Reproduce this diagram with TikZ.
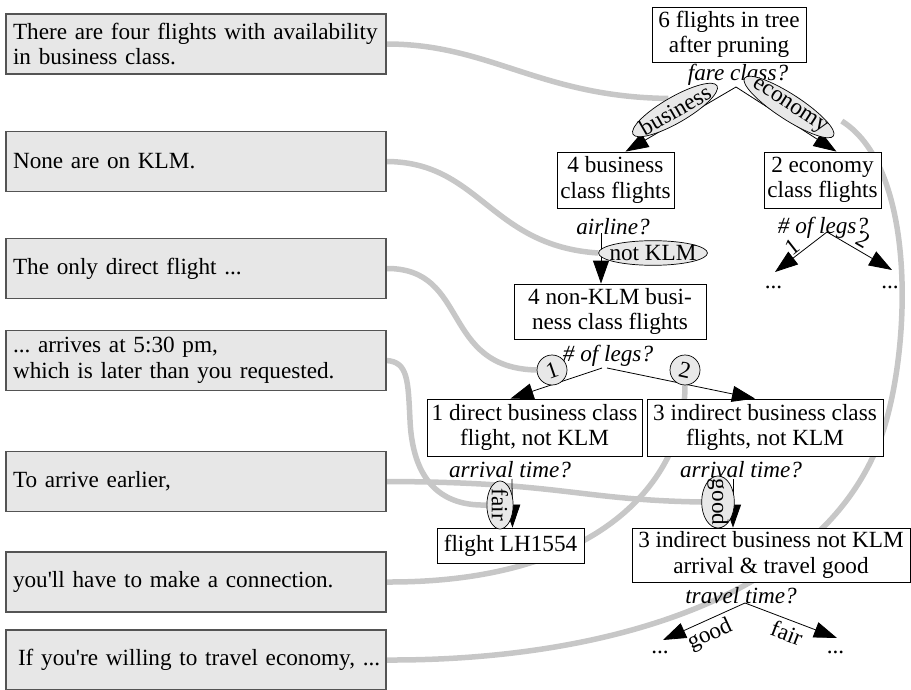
\documentclass[tikz,border=0pt]{standalone}
\usepackage{fontspec}
\setmainfont{Liberation Serif}[Ligatures=TeXOff]
\usetikzlibrary{arrows.meta,shapes.geometric,backgrounds}
\definecolor{saybg}{gray}{0.905}
\definecolor{sayline}{gray}{0.33}
\definecolor{linkgray}{gray}{0.78}
\definecolor{labbg}{gray}{0.91}
\frenchspacing
\begin{document}
\begin{tikzpicture}[x=1pt,y=-1pt,
  every node/.style={font=\fontsize{23.2}{25.5}\selectfont},
  say/.style={draw=sayline, fill=saybg, line width=1.1pt, minimum width=380pt,
    minimum height=60pt, text width=366pt, align=left, inner sep=0pt},
  tbox/.style={draw=black, fill=white, line width=0.8pt, inner sep=0pt, align=center},
  lab/.style={ellipse, draw=black, fill=labbg, line width=0.7pt, inner xsep=-5pt, inner ysep=1pt},
  circlab/.style={circle, draw=black, fill=labbg, line width=0.7pt, inner sep=0pt, minimum size=30pt},
  qtext/.style={font=\fontsize{23.2}{25.5}\selectfont\itshape, inner sep=0pt},
  plain/.style={inner sep=0pt},
  link/.style={line width=5.5pt, draw=linkgray},
  tedge/.style={draw=black, line width=0.8pt, -{Triangle[length=23pt,width=16pt]}}
]
\useasboundingbox (0,0) rectangle (911,690);

% left-hand sentences
\node[say] (s1) at (196,44) {There are four flights with availability\\in business class.};
\node[say] (s2) at (196,161.5) {None are on KLM.};
\node[say] (s3) at (196,268.5) {The only direct flight ...};
\node[say] (s4) at (196,360.5) {... arrives at 5:30 pm,\\which is later than you requested.};
\node[say] (s5) at (196,481.5) {To arrive earlier,};
\node[say] (s6) at (196,582) {you'll have to make a connection.};
\node[say] (s7) at (196,660) {\mbox{\hspace{5pt}If you're willing to travel economy, ...}};

% tree boxes
\node[tbox, minimum width=154pt, minimum height=55pt] (n6) at (729,34.5) {6 flights in tree\\after pruning};
\node[tbox, minimum width=117pt, minimum height=56pt] (n4b) at (615.5,180) {4 business\\class flights};
\node[tbox, minimum width=117pt, minimum height=56pt] (n2e) at (822.5,180) {2 economy\\class flights};
\node[tbox, minimum width=192pt, minimum height=55pt] (n4n) at (610,311.5) {4 non-KLM busi-\\ness class flights};
\node[tbox, minimum width=215pt, minimum height=57pt] (n1d) at (534.5,427.5) {1 direct business class\\flight, not KLM};
\node[tbox, minimum width=236pt, minimum height=57pt] (n3i) at (765,427.5) {3 indirect business class\\flights, not KLM};
\node[tbox, minimum width=147pt, minimum height=35pt] (nlh) at (510.5,545.5) {flight LH1554};
\node[tbox, minimum width=278pt, minimum height=54pt] (n3g) at (771,555) {3 indirect business not KLM\\arrival \& travel good};

% questions
\node[qtext] (q1) at (738,75) {fare class?};
\node[qtext] (q2) at (613,227) {airline?};
\node[qtext] (q3) at (823,228) {\# of legs?};
\node[qtext] (q4) at (608,356) {\# of legs?};
\node[qtext] (q5) at (510,470) {arrival time?};
\node[qtext] (q6) at (741,470) {arrival time?};
\node[qtext] (q7) at (741,596) {travel time?};

% branch points and free ends
\coordinate (j1) at (736,87);
\coordinate (j2) at (601,233);
\coordinate (j3) at (827,232);
\coordinate (j4a) at (602,368);
\coordinate (j4b) at (607,368);
\coordinate (j5) at (512,479);
\coordinate (j6) at (733,479);
\coordinate (j7) at (745,603);
\coordinate (t1) at (775,272);
\coordinate (t2) at (892,270);
\coordinate (t3) at (663,640);
\coordinate (t4) at (837,638);

% dots
\node[plain, anchor=base] (d1) at (773.5,288) {...};
\node[plain, anchor=base] (d2) at (890,288) {...};
\node[plain, anchor=base] (d3) at (660,653) {...};
\node[plain, anchor=base] (d4) at (835.5,653) {...};

% tree edges
\draw[tedge] (j1) -- ([xshift=10pt]n4b.north);
\draw[tedge] (j1) -- ([xshift=14pt]n2e.north);
\draw[tedge] (j2) -- ([xshift=-9pt]n4n.north);
\draw[tedge] (j3) -- (t1);
\draw[tedge] (j3) -- (t2);
\draw[tedge] (j4a) -- ([xshift=-24pt]n1d.north);
\draw[tedge] (j4b) -- ([xshift=-10pt]n3i.north);
\draw[tedge] (j5) -- ([xshift=2pt]nlh.north);
\draw[tedge] (j6) -- ([xshift=-38pt]n3g.north);
\draw[tedge] (j7) -- (t3);
\draw[tedge] (j7) -- (t4);

% label ellipses / circles
\node[lab, rotate=30] (lbus) at (675,110) {business};
\node[lab, rotate=-33] (leco) at (789,107) {economy};
\node[lab] (lklm) at (653,253) {not KLM};
\node[circlab] (c1) at (552,370) {\rotatebox{19}{1}};
\node[circlab] (c2) at (685,370) {\rotatebox{-12}{2}};
\node[lab, rotate=-90, minimum width=48pt] (lfair) at (500,505) {fair};
\node[lab, rotate=-90, minimum width=52pt] (lgood) at (718,502) {good};

% plain edge labels
\node[plain, rotate=38] (e1) at (792,247) {1};
\node[plain, rotate=-30] (e2) at (863,240) {2};
\node[plain, rotate=25] (e3) at (710,635) {good};
\node[plain, rotate=-21] (e4) at (787,633) {fair};

% grey links (behind everything)
\begin{scope}[on background layer]
\draw[link] (s1.east) .. controls (490,44) and (540,97) .. (lbus.north);
\draw[link] (s2.east) .. controls (480,162) and (490,246) .. (lklm.west);
\draw[link] (s3.east) .. controls (470,268) and (440,368) .. (c1.west);
\draw[link] (s4.east) .. controls (408,362) and (408,380) .. (410,420)
                      .. controls (413,490) and (450,506) .. (lfair.south);
\draw[link] (s5.east) .. controls (560,482) and (580,500) .. (lgood.south);
\draw[link] (s6.east) .. controls (600,583) and (685,480) .. (c2.south);
\draw[link] (s7.east) .. controls (600,661) and (820,600) .. (880,440)
                      .. controls (910,360) and (920,170) .. ([shift={(8,-15)}]leco.east);
\end{scope}
\end{tikzpicture}
\end{document}
